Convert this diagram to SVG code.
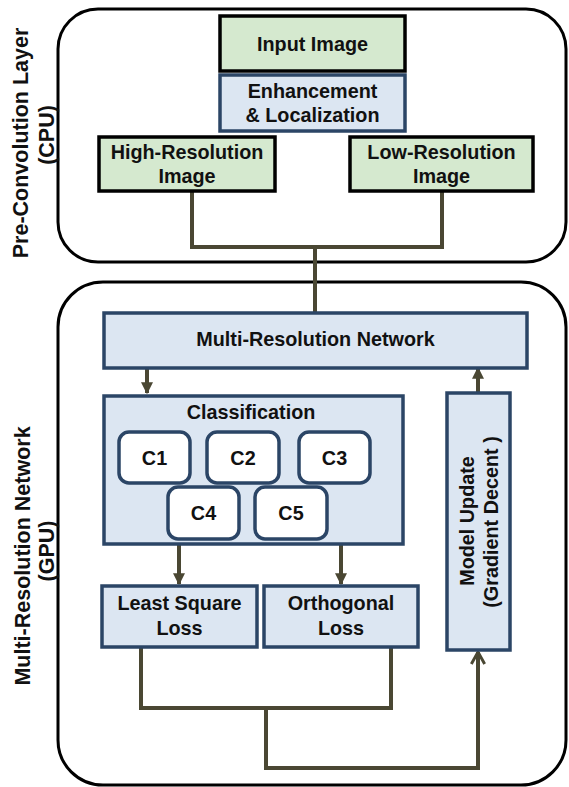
<svg xmlns="http://www.w3.org/2000/svg" width="569" height="787" viewBox="0 0 569 787">
<defs>
<style>
text{font-family:"Liberation Sans",Arial,sans-serif;font-weight:bold;fill:#111;text-anchor:middle}
.t{font-size:19.8px}
.side{font-size:21.5px}
.outer{fill:#fff;stroke:#000;stroke-width:3}
.green{fill:#d5e9cf;stroke:#000;stroke-width:3.5}
.blue{fill:#dce6f2;stroke:#2b4566;stroke-width:3.5}
.cbox{fill:#fff;stroke:#2b4566;stroke-width:3.5}
.conn{fill:none;stroke:#4a4733;stroke-width:4}
</style>
<marker id="tri" viewBox="0 0 10 10" refX="9" refY="5" markerWidth="3" markerHeight="3" orient="auto" markerUnits="strokeWidth">
<path d="M0,0 L10,5 L0,10 z" fill="#4a4733"/>
</marker>
<marker id="chev" viewBox="0 0 12 12" refX="10" refY="6" markerWidth="4" markerHeight="4" orient="auto" markerUnits="strokeWidth">
<path d="M1,1 L10,6 L1,11" fill="none" stroke="#4a4733" stroke-width="2.2"/>
</marker>
</defs>

<g id="cpu-layer">
<rect class="outer" x="58" y="9" width="508" height="253" rx="40"/>
<text class="side" transform="translate(28,143) rotate(-90)">Pre-Convolution Layer</text>
<text class="side" transform="translate(54,135) rotate(-90)">(CPU)</text>
</g>

<g id="gpu-layer">
<rect class="outer" x="58" y="282" width="508" height="503" rx="45"/>
<text class="side" transform="translate(30,556) rotate(-90)">Multi-Resolution Network</text>
<text class="side" transform="translate(54,551) rotate(-90)">(GPU)</text>
</g>

<g id="connectors">
<path class="conn" d="M192,192 V247 H442 V192"/>
<path class="conn" d="M315,247 V312"/>
<path class="conn" d="M147,368 V393" marker-end="url(#tri)"/>
<path class="conn" d="M478,393 V368" marker-end="url(#tri)"/>
<path class="conn" d="M179,545 V584" marker-end="url(#tri)"/>
<path class="conn" d="M341,545 V584" marker-end="url(#tri)"/>
<path class="conn" d="M141,648 V708 H391 V648"/>
<path class="conn" d="M266,708 V768 H478 V652" marker-end="url(#chev)"/>
</g>

<g id="input-image">
<rect class="green" x="220" y="16" width="185" height="55"/>
<text class="t" x="312.5" y="51">Input Image</text>
</g>

<g id="enhancement">
<rect class="blue" x="220" y="75" width="185" height="56"/>
<text class="t" x="312.5" y="98">Enhancement</text>
<text class="t" x="312.5" y="122">&amp; Localization</text>
</g>

<g id="high-res">
<rect class="green" x="99" y="137" width="176" height="54"/>
<text class="t" x="187" y="159">High-Resolution</text>
<text class="t" x="187" y="183">Image</text>
</g>

<g id="low-res">
<rect class="green" x="350" y="137" width="183" height="54"/>
<text class="t" x="441.5" y="159">Low-Resolution</text>
<text class="t" x="441.5" y="183">Image</text>
</g>

<g id="multi-res-network">
<rect class="blue" x="104" y="313" width="423" height="55"/>
<text class="t" x="315.5" y="346">Multi-Resolution Network</text>
</g>

<g id="classification">
<rect class="blue" x="104" y="396" width="299" height="148"/>
<text class="t" x="251" y="419">Classification</text>
</g>

<g id="c1"><rect class="cbox" x="119" y="432" width="71" height="51" rx="10"/><text class="t" x="154.5" y="465">C1</text></g>
<g id="c2"><rect class="cbox" x="207" y="432" width="72" height="51" rx="10"/><text class="t" x="243" y="465">C2</text></g>
<g id="c3"><rect class="cbox" x="299" y="432" width="71" height="51" rx="10"/><text class="t" x="334.5" y="465">C3</text></g>
<g id="c4"><rect class="cbox" x="168" y="487" width="71" height="52" rx="10"/><text class="t" x="203.5" y="520">C4</text></g>
<g id="c5"><rect class="cbox" x="255" y="487" width="72" height="52" rx="10"/><text class="t" x="291" y="520">C5</text></g>

<g id="least-square-loss">
<rect class="blue" x="102" y="586" width="155" height="61"/>
<text class="t" x="179.5" y="610">Least Square</text>
<text class="t" x="179.5" y="635">Loss</text>
</g>

<g id="orthogonal-loss">
<rect class="blue" x="264" y="586" width="154" height="61"/>
<text class="t" x="341" y="610">Orthogonal</text>
<text class="t" x="341" y="635">Loss</text>
</g>

<g id="model-update">
<rect class="blue" x="447" y="393" width="63" height="257"/>
<text class="t" transform="translate(474,521) rotate(-90)">Model Update</text>
<text class="t" transform="translate(498,522) rotate(-90)">(Gradient Decent )</text>
</g>
</svg>
